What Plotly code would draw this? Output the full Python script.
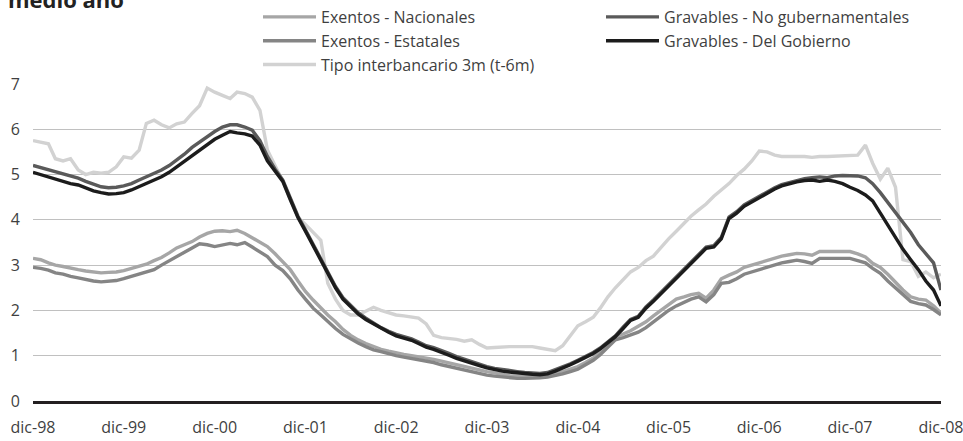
import pandas as pd
import plotly.graph_objects as go

months = pd.date_range("1998-12-01", periods=121, freq="MS")
tick_dates = months[::12]
tick_labels = ["dic-98", "dic-99", "dic-00", "dic-01", "dic-02", "dic-03",
               "dic-04", "dic-05", "dic-06", "dic-07", "dic-08"]
y_ticks = [0, 1, 2, 3, 4, 5, 6, 7]

exentos_nacionales = [
    3.15, 3.12, 3.05, 3.00, 2.97, 2.93, 2.90, 2.87, 2.85, 2.83, 2.84, 2.85,
    2.88, 2.93, 2.98, 3.02, 3.10, 3.17, 3.27, 3.38, 3.45, 3.52, 3.62, 3.70,
    3.75, 3.76, 3.74, 3.77, 3.70, 3.60, 3.50, 3.41, 3.25, 3.08, 2.90, 2.65,
    2.42, 2.23, 2.05, 1.90, 1.75, 1.58, 1.45, 1.35, 1.27, 1.20, 1.14, 1.10,
    1.06, 1.03, 1.00, 0.98, 0.96, 0.92, 0.88, 0.84, 0.80, 0.76, 0.72, 0.68,
    0.65, 0.62, 0.59, 0.56, 0.55, 0.55, 0.55, 0.56, 0.57, 0.60, 0.65, 0.70,
    0.76, 0.85, 0.95, 1.08, 1.25, 1.42, 1.48, 1.55, 1.65, 1.75, 1.88, 2.00,
    2.12, 2.25, 2.30, 2.35, 2.38, 2.27, 2.45, 2.70, 2.78, 2.85, 2.95, 3.00,
    3.05, 3.10, 3.15, 3.20, 3.23, 3.26, 3.25, 3.22, 3.30, 3.30, 3.30, 3.30,
    3.30, 3.25, 3.18, 3.04, 2.95, 2.80, 2.62, 2.45, 2.30, 2.25, 2.23, 2.10,
    1.94]

exentos_estatales = [
    2.95, 2.93, 2.89, 2.83, 2.80, 2.75, 2.72, 2.68, 2.65, 2.63, 2.64, 2.66,
    2.70, 2.75, 2.80, 2.84, 2.90, 3.00, 3.10, 3.20, 3.30, 3.38, 3.47, 3.45,
    3.41, 3.45, 3.48, 3.45, 3.50, 3.40, 3.30, 3.19, 3.00, 2.88, 2.70, 2.45,
    2.25, 2.05, 1.90, 1.75, 1.60, 1.47, 1.37, 1.28, 1.20, 1.13, 1.09, 1.04,
    1.00, 0.97, 0.94, 0.91, 0.88, 0.85, 0.80, 0.76, 0.72, 0.68, 0.64, 0.60,
    0.57, 0.55, 0.53, 0.51, 0.50, 0.50, 0.50, 0.51, 0.53, 0.56, 0.60, 0.65,
    0.70, 0.80, 0.90, 1.02, 1.20, 1.35, 1.40, 1.45, 1.52, 1.62, 1.75, 1.87,
    2.00, 2.10, 2.18, 2.25, 2.30, 2.19, 2.35, 2.60, 2.62, 2.70, 2.80, 2.85,
    2.90, 2.95, 3.00, 3.05, 3.08, 3.11, 3.08, 3.04, 3.15, 3.15, 3.15, 3.15,
    3.15, 3.10, 3.05, 2.93, 2.82, 2.65, 2.50, 2.35, 2.20, 2.15, 2.12, 2.02,
    1.90]

interbancario_3m = [
    5.75, 5.72, 5.68, 5.35, 5.30, 5.35, 5.10, 5.00, 5.05, 5.03, 5.05, 5.17,
    5.39, 5.36, 5.54, 6.13, 6.20, 6.10, 6.03, 6.12, 6.16, 6.35, 6.52, 6.91,
    6.82, 6.75, 6.68, 6.82, 6.79, 6.71, 6.42, 5.54, 5.20, 4.85, 4.45, 4.05,
    3.90, 3.72, 3.55, 2.60, 2.25, 2.00, 1.90, 1.90, 1.98, 2.07, 2.00, 1.94,
    1.90, 1.88, 1.85, 1.83, 1.70, 1.45, 1.40, 1.38, 1.36, 1.32, 1.35, 1.25,
    1.17, 1.18, 1.20, 1.20, 1.20, 1.20, 1.20, 1.17, 1.14, 1.11, 1.22, 1.45,
    1.66, 1.75, 1.85, 2.05, 2.30, 2.50, 2.68, 2.85, 2.95, 3.10, 3.20, 3.40,
    3.58, 3.75, 3.92, 4.08, 4.22, 4.35, 4.52, 4.65, 4.80, 4.98, 5.12, 5.30,
    5.52, 5.50, 5.43, 5.40, 5.40, 5.39, 5.40, 5.38, 5.40, 5.40, 5.41, 5.41,
    5.42, 5.43, 5.65, 5.25, 4.90, 5.14, 4.72, 3.12, 3.08, 2.75, 2.85, 2.72,
    2.80]

gravables_no_gub = [
    5.20, 5.15, 5.10, 5.05, 5.00, 4.96, 4.92, 4.85, 4.78, 4.73, 4.71, 4.72,
    4.75, 4.80, 4.88, 4.95, 5.03, 5.10, 5.20, 5.32, 5.45, 5.60, 5.72, 5.85,
    5.95, 6.05, 6.10, 6.10, 6.05, 5.98, 5.75, 5.40, 5.12, 4.88, 4.48, 4.08,
    3.78, 3.45, 3.13, 2.83, 2.53, 2.28, 2.10, 1.95, 1.83, 1.72, 1.62, 1.54,
    1.47, 1.42, 1.37, 1.30, 1.22, 1.18, 1.12, 1.05, 0.98, 0.92, 0.87, 0.82,
    0.76, 0.72, 0.69, 0.67, 0.65, 0.63, 0.62, 0.61, 0.63, 0.69, 0.75, 0.82,
    0.90, 0.98, 1.07, 1.17, 1.30, 1.44, 1.63, 1.80, 1.87, 2.08, 2.23, 2.40,
    2.56, 2.73, 2.90, 3.06, 3.23, 3.40, 3.43, 3.61, 4.06, 4.18, 4.33, 4.43,
    4.53, 4.63, 4.71, 4.78, 4.83, 4.87, 4.91, 4.93, 4.95, 4.93, 4.97, 4.98,
    4.98, 4.97, 4.93, 4.80, 4.60, 4.38, 4.15, 3.95, 3.72, 3.45, 3.25, 3.05,
    2.45]

gravables_gobierno = [
    5.05, 5.00, 4.95, 4.90, 4.85, 4.80, 4.77, 4.70, 4.64, 4.60, 4.57, 4.58,
    4.60, 4.66, 4.73, 4.80, 4.87, 4.95, 5.05, 5.17, 5.30, 5.42, 5.55, 5.68,
    5.78, 5.87, 5.95, 5.92, 5.90, 5.85, 5.65, 5.30, 5.08, 4.85, 4.45, 4.05,
    3.75, 3.42, 3.10, 2.80, 2.50, 2.25, 2.07, 1.92, 1.80, 1.70, 1.60, 1.52,
    1.44, 1.39, 1.34, 1.27, 1.19, 1.14, 1.08, 1.01, 0.94, 0.88, 0.83, 0.78,
    0.73, 0.69, 0.66, 0.64, 0.62, 0.60, 0.59, 0.58, 0.60, 0.66, 0.72, 0.80,
    0.88, 0.96, 1.05, 1.15, 1.28, 1.42, 1.60, 1.78, 1.85, 2.05, 2.20, 2.37,
    2.53, 2.70, 2.87, 3.03, 3.20, 3.37, 3.40, 3.58, 4.03, 4.15, 4.30, 4.40,
    4.50, 4.60, 4.68, 4.75, 4.80, 4.84, 4.87, 4.88, 4.85, 4.88, 4.85, 4.80,
    4.72, 4.65, 4.55, 4.42, 4.15, 3.88, 3.60, 3.35, 3.12, 2.90, 2.65, 2.45,
    2.10, 1.72]
gravables_gobierno = gravables_gobierno[:121]

FONT = "Open Sans"
TEXT = "#3f3f3f"

series = [
    # name, values, color, legend, rank
    ("Tipo interbancario 3m (t-6m)", interbancario_3m, "#d2d2d2", "legend", 3),
    ("Exentos - Nacionales", exentos_nacionales, "#a6a6a6", "legend", 1),
    ("Exentos - Estatales", exentos_estatales, "#858585", "legend", 2),
    ("Gravables - No gubernamentales", gravables_no_gub, "#5a5a5a", "legend2", 1),
    ("Gravables - Del Gobierno", gravables_gobierno, "#1c1c1c", "legend2", 2),
]

fig = go.Figure()
for name, vals, color, leg, rank in series:
    fig.add_trace(go.Scatter(
        x=months, y=vals, name=name, mode="lines",
        line=dict(color=color, width=3.4),
        legend=leg, legendrank=rank,
    ))

legend_common = dict(
    font=dict(family=FONT, size=16, color=TEXT),
    bgcolor="rgba(0,0,0,0)", borderwidth=0,
    orientation="v", itemwidth=53,
    xref="container", yref="container",
    xanchor="left", yanchor="top",
    tracegroupgap=0,
)

fig.update_layout(
    width=963, height=441,
    margin=dict(l=33, r=22, t=84, b=40, autoexpand=False),
    paper_bgcolor="white", plot_bgcolor="white",
    font=dict(family=FONT, size=15, color=TEXT),
    title=dict(text="<b>medio año</b>", font=dict(family=FONT, size=22, color="#222222"),
               x=8 / 963, xanchor="left", xref="container",
               y=1, yanchor="middle", yref="container",
               pad=dict(l=0, r=0, t=0, b=0)),
    showlegend=True,
    legend=dict(**legend_common, x=258 / 963, y=1 + 8 / 441),
    legend2=dict(**legend_common, x=601 / 963, y=1 + 8 / 441),
    xaxis=dict(
        range=[months[0], months[-1]],
        tickvals=tick_dates, ticktext=tick_labels,
        showgrid=False, zeroline=False,
        showline=True, linecolor="#231f20", linewidth=2.6,
        ticks="", ticklabelstandoff=10, ticklabeloverflow="allow",
        tickfont=dict(family=FONT, size=16, color=TEXT),
    ),
    yaxis=dict(
        range=[0, 7], tickvals=y_ticks,
        showgrid=True, gridcolor="#c0c0c0", gridwidth=1,
        zeroline=False, showline=False, ticks="",
        ticklabelstandoff=12,
        tickfont=dict(family=FONT, size=16, color=TEXT),
    ),
)

fig.write_html(
    "out.html",
    config={"displayModeBar": False},
    post_script="document.body.style.margin='0';document.body.style.overflow='hidden';",
)
